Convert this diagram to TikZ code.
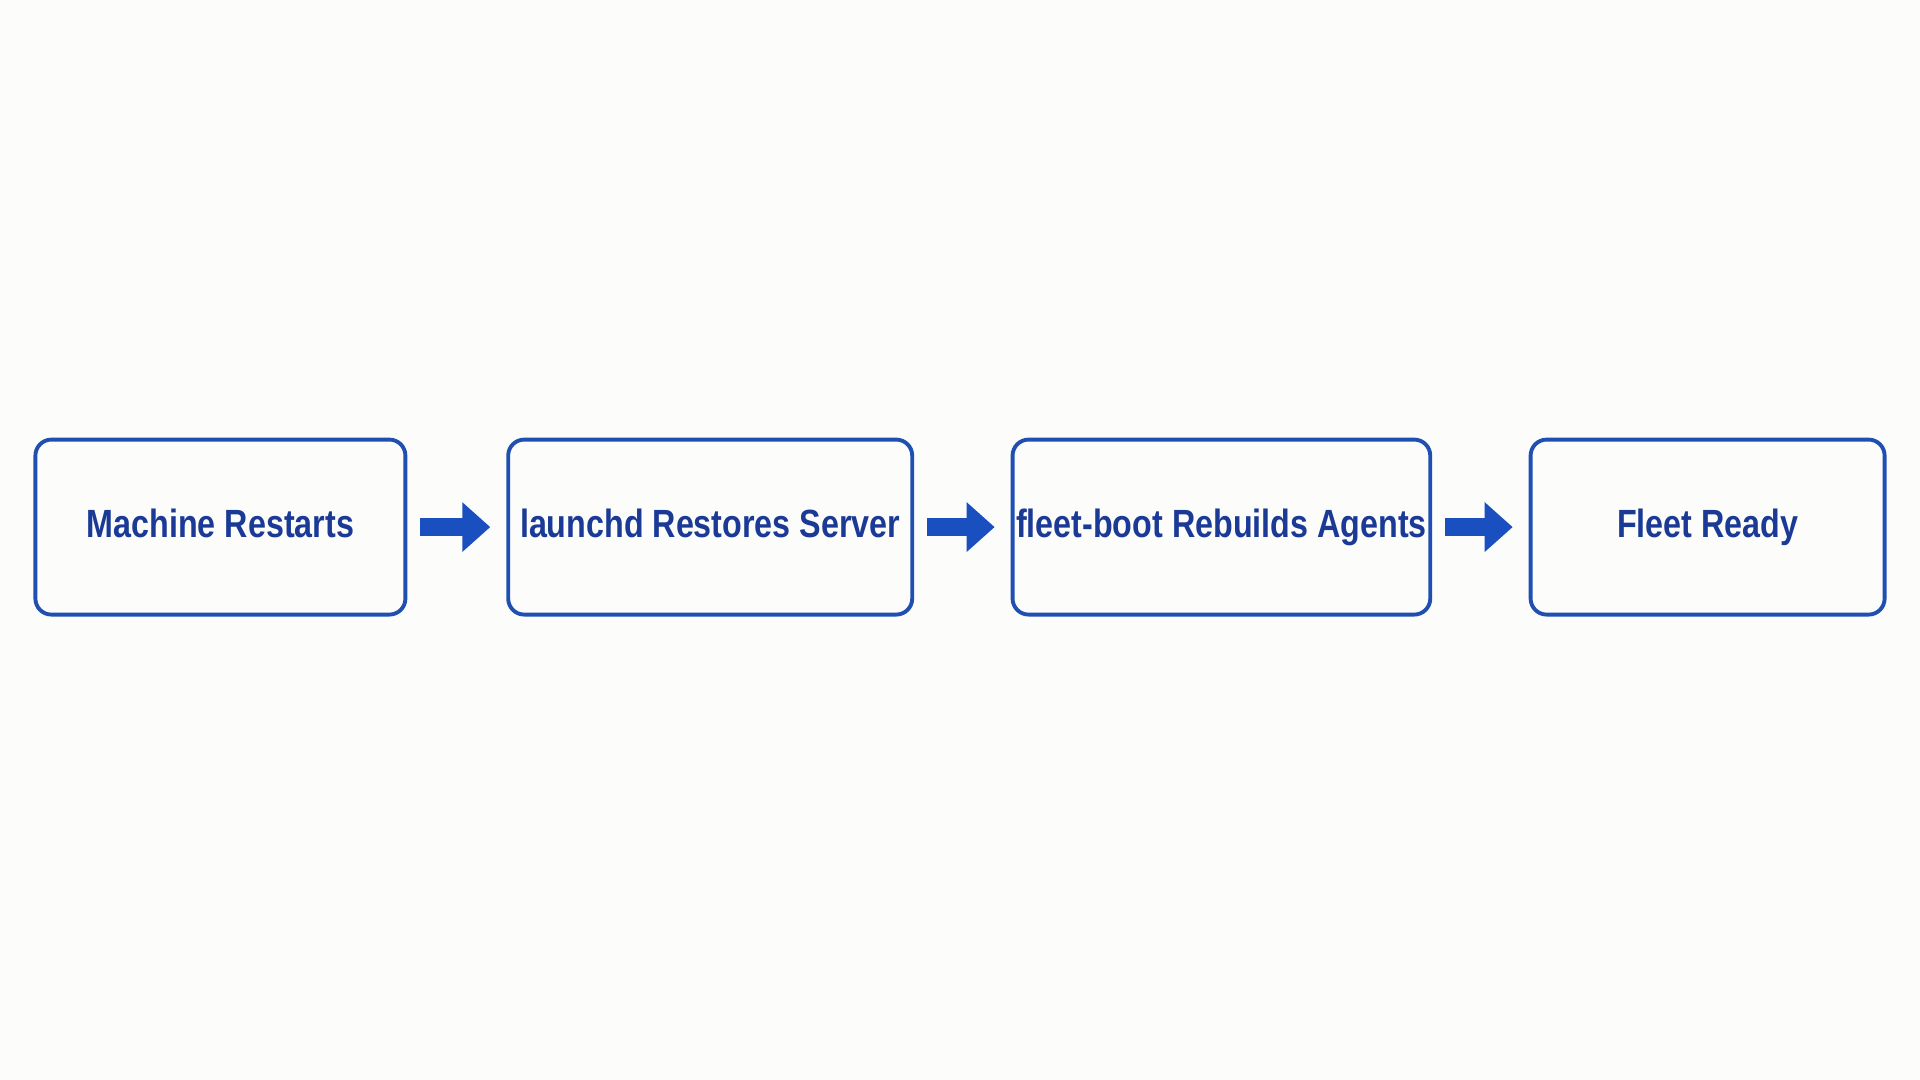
\documentclass[tikz,border=0pt]{standalone}
\usepackage{fontspec}
\setmainfont{Liberation Sans}[FakeStretch=0.82]
\usetikzlibrary{arrows.meta}
\definecolor{boxblue}{HTML}{1F4FB0}
\definecolor{textblue}{HTML}{1A3A96}
\definecolor{arrowblue}{HTML}{1A4FC0}
\definecolor{bgwhite}{HTML}{FCFCFB}
\begin{document}
\begin{tikzpicture}[every node/.style={draw=boxblue,line width=1.1pt,rounded corners=.16cm,inner sep=1pt,minimum height=1.75cm,text height=1.6ex,text depth=.45ex,text=textblue,font=\fontsize{11.2}{13}\selectfont\bfseries}]
				\fill[bgwhite] (0,0) rectangle (19.2,10.8);
				\useasboundingbox (0,0) rectangle (19.2,10.8);
				\node[minimum width=3.70cm] (restart) at (2.204,5.529){Machine Restarts};
				\node[minimum width=4.04cm] (launchd) at (7.102,5.529){launchd Restores Server};
				\node[minimum width=4.17cm] (boot) at (12.214,5.529){fleet-boot Rebuilds Agents};
				\node[minimum width=3.54cm] (ready) at (17.076,5.529){Fleet Ready};
				\begin{scope}[arrowblue,line width=5pt,-{Triangle[length=.28cm,width=.48cm]},shorten <=.13cm,shorten >=.16cm]
				\draw (restart)--(launchd);
				\draw (launchd)--(boot);
				\draw (boot)--(ready);
				\end{scope}
			\end{tikzpicture}
\end{document}
